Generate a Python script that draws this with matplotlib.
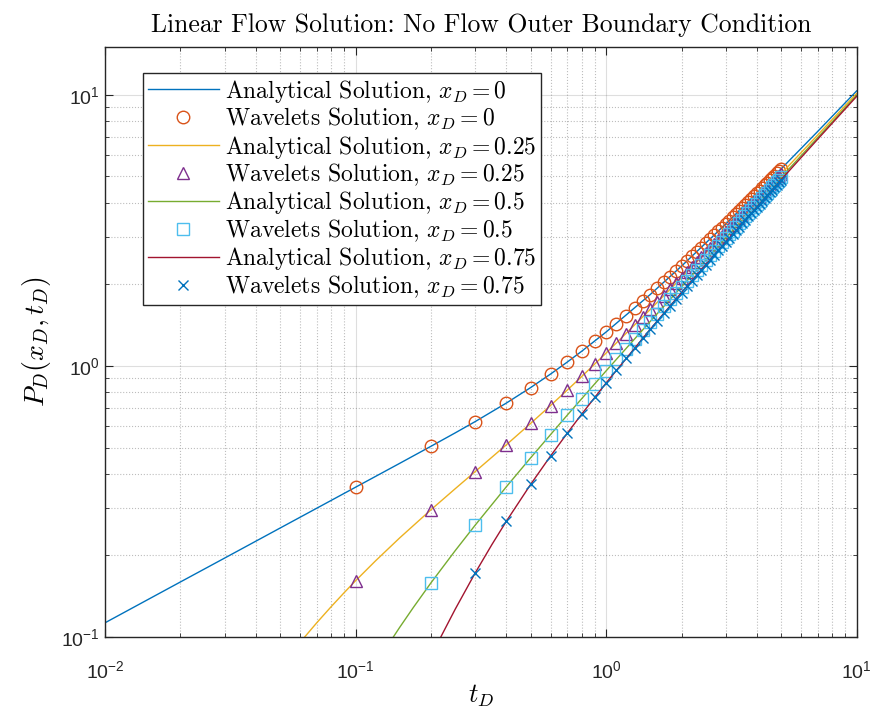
import numpy as np
import matplotlib
matplotlib.use("Agg")
import matplotlib.pyplot as plt

plt.rcParams['font.family'] = ['Liberation Sans', 'DejaVu Sans']
plt.rcParams['mathtext.fontset'] = 'cm'

# analytical curves (t_D, P_D)
t_line_0 = [0.01, 0.015, 0.02, 0.03, 0.05, 0.07, 0.1, 0.15, 0.2, 0.25, 0.3,
            0.4, 0.5, 0.6, 0.7, 0.8, 1.0, 1.5, 2.0, 3.0, 5.0, 7.0, 10.0]
p_line_0 = [0.1128, 0.1382, 0.1596, 0.1954, 0.2523, 0.2985, 0.3568, 0.4370,
            0.5052, 0.5662, 0.6228, 0.7294, 0.8319, 0.9328, 1.0331, 1.1333,
            1.3333, 1.8333, 2.3333, 3.3333, 5.3333, 7.3333, 10.3333]

t_line_25 = [0.05, 0.06, 0.07, 0.08, 0.09, 0.1, 0.12, 0.15, 0.2, 0.25, 0.3,
             0.4, 0.5, 0.6, 0.7, 0.8, 1.0, 1.5, 2.0, 3.0, 5.0, 7.0, 10.0]
p_line_25 = [0.0773, 0.0954, 0.1128, 0.1295, 0.1456, 0.1612, 0.1907, 0.2320,
             0.2947, 0.3524, 0.4072, 0.5118, 0.6136, 0.7142, 0.8144, 0.9145,
             1.1146, 1.6146, 2.1146, 3.1146, 5.1146, 7.1146, 10.1146]

t_line_50 = [0.12, 0.13, 0.14, 0.15, 0.17, 0.2, 0.25, 0.3, 0.4, 0.5, 0.7,
             1.0, 1.5, 2.0, 3.0, 5.0, 7.0, 10.0]
p_line_50 = [0.0788, 0.0886, 0.0985, 0.1085, 0.1284, 0.1584, 0.2083, 0.2583,
             0.3583, 0.4583, 0.6583, 0.9583, 1.4583, 1.9583, 2.9583, 4.9583,
             6.9583, 9.9583]

t_line_75 = [0.2, 0.21, 0.22, 0.25, 0.3, 0.35, 0.4, 0.5, 0.6, 0.7, 0.8, 1.0,
             1.5, 2.0, 3.0, 5.0, 7.0, 10.0]
p_line_75 = [0.0845, 0.0926, 0.1009, 0.1267, 0.1720, 0.2191, 0.2674, 0.3656,
             0.4650, 0.5647, 0.6646, 0.8646, 1.3646, 1.8646, 2.8646, 4.8646,
             6.8646, 9.8646]

# wavelet solution points
t_wav = [0.1, 0.2, 0.3, 0.4, 0.5, 0.6, 0.7, 0.8, 0.9, 1.0,
         1.1, 1.2, 1.3, 1.4, 1.5, 1.6, 1.7, 1.8, 1.9, 2.0,
         2.1, 2.2, 2.3, 2.4, 2.5, 2.6, 2.7, 2.8, 2.9, 3.0,
         3.1, 3.2, 3.3, 3.4, 3.5, 3.6, 3.7, 3.8, 3.9, 4.0,
         4.1, 4.2, 4.3, 4.4, 4.5, 4.6, 4.7, 4.8, 4.9, 5.0]
p_wav_0 = [0.357, 0.505, 0.623, 0.729, 0.832, 0.933, 1.033, 1.133, 1.233, 1.333,
           1.433, 1.533, 1.633, 1.733, 1.833, 1.933, 2.033, 2.133, 2.233, 2.333,
           2.433, 2.533, 2.633, 2.733, 2.833, 2.933, 3.033, 3.133, 3.233, 3.333,
           3.433, 3.533, 3.633, 3.733, 3.833, 3.933, 4.033, 4.133, 4.233, 4.333,
           4.433, 4.533, 4.633, 4.733, 4.833, 4.933, 5.033, 5.133, 5.233, 5.333]
p_wav_25 = [0.161, 0.295, 0.407, 0.512, 0.614, 0.714, 0.814, 0.915, 1.015, 1.115,
            1.215, 1.315, 1.415, 1.515, 1.615, 1.715, 1.815, 1.915, 2.015, 2.115,
            2.215, 2.315, 2.415, 2.515, 2.615, 2.715, 2.815, 2.915, 3.015, 3.115,
            3.215, 3.315, 3.415, 3.515, 3.615, 3.715, 3.815, 3.915, 4.015, 4.115,
            4.215, 4.315, 4.415, 4.515, 4.615, 4.715, 4.815, 4.915, 5.015, 5.115]
p_wav_50 = [0.059, 0.158, 0.258, 0.358, 0.458, 0.558, 0.658, 0.758, 0.858, 0.958,
            1.058, 1.158, 1.258, 1.358, 1.458, 1.558, 1.658, 1.758, 1.858, 1.958,
            2.058, 2.158, 2.258, 2.358, 2.458, 2.558, 2.658, 2.758, 2.858, 2.958,
            3.058, 3.158, 3.258, 3.358, 3.458, 3.558, 3.658, 3.758, 3.858, 3.958,
            4.058, 4.158, 4.258, 4.358, 4.458, 4.558, 4.658, 4.758, 4.858, 4.958]
p_wav_75 = [0.018, 0.084, 0.172, 0.267, 0.366, 0.465, 0.565, 0.665, 0.765, 0.865,
            0.965, 1.065, 1.165, 1.265, 1.365, 1.465, 1.565, 1.665, 1.765, 1.865,
            1.965, 2.065, 2.165, 2.265, 2.365, 2.465, 2.565, 2.665, 2.765, 2.865,
            2.965, 3.065, 3.165, 3.265, 3.365, 3.465, 3.565, 3.665, 3.765, 3.865,
            3.965, 4.065, 4.165, 4.265, 4.365, 4.465, 4.565, 4.665, 4.765, 4.865]

x_labels = ['0', '0.25', '0.5', '0.75']

# MATLAB default colour order
c_blue = '#0072BD'
c_orange = '#D95319'
c_yellow = '#EDB120'
c_purple = '#7E2F8E'
c_green = '#77AC30'
c_cyan = '#4DBEEE'
c_red = '#A2142F'

fig = plt.figure(figsize=(8.75, 7.13), dpi=100)
ax = fig.add_axes([0.12, 0.1066, 0.859, 0.8274])

mk = dict(linestyle='none', markersize=9, markeredgewidth=1.0, markerfacecolor='none')


def an_label(x):
    return 'Analytical Solution, $x_D = ' + x + '$'


def wv_label(x):
    return 'Wavelets Solution, $x_D = ' + x + '$'


ax.plot(t_line_0, p_line_0, color=c_blue, lw=1.0, label=an_label(x_labels[0]))
ax.plot(t_wav, p_wav_0, marker='o', color=c_orange, label=wv_label(x_labels[0]), **mk)
ax.plot(t_line_25, p_line_25, color=c_yellow, lw=1.0, label=an_label(x_labels[1]))
ax.plot(t_wav, p_wav_25, marker='^', color=c_purple, label=wv_label(x_labels[1]), **mk)
ax.plot(t_line_50, p_line_50, color=c_green, lw=1.0, label=an_label(x_labels[2]))
ax.plot(t_wav, p_wav_50, marker='s', color=c_cyan, label=wv_label(x_labels[2]),
        **dict(mk, markersize=8.5))
ax.plot(t_line_75, p_line_75, color=c_red, lw=1.0, label=an_label(x_labels[3]))
ax.plot(t_wav, p_wav_75, marker='x', color=c_blue, label=wv_label(x_labels[3]),
        **dict(mk, markersize=7))

ax.set_xscale('log')
ax.set_yscale('log')
ax.set_xlim(1e-2, 1e1)
ax.set_ylim(1e-1, 15)

ax.grid(True, which='major', color='#262626', alpha=0.15, lw=0.8, linestyle='-')
ax.grid(True, which='minor', color='#262626', alpha=0.3, lw=0.8, linestyle=':')
ax.tick_params(which='both', direction='in', top=True, right=True, colors='#262626')
ax.tick_params(which='major', length=6, labelsize=14)
ax.tick_params(axis='x', which='major', pad=17)
ax.tick_params(which='minor', length=3)
for s in ax.spines.values():
    s.set_color('#262626')
    s.set_linewidth(1.0)

ax.set_title('Linear Flow Solution: No Flow Outer Boundary Condition',
             fontname='cmr10', fontsize=18.5, pad=11)
ax.set_xlabel(r'$t_D$', fontsize=19, labelpad=0)
ax.set_ylabel(r'$P_D(x_D,t_D)$', fontsize=20, labelpad=6)

leg = ax.legend(loc='upper left', bbox_to_anchor=(0.051, 0.956),
                prop={'family': 'cmr10', 'size': 17},
                fancybox=False, framealpha=1, edgecolor='#262626',
                handlelength=3.0, handletextpad=0.25, labelspacing=0.05,
                borderpad=0.2, borderaxespad=0)
leg.get_frame().set_linewidth(1.0)

fig.savefig('out.png', dpi=100)
